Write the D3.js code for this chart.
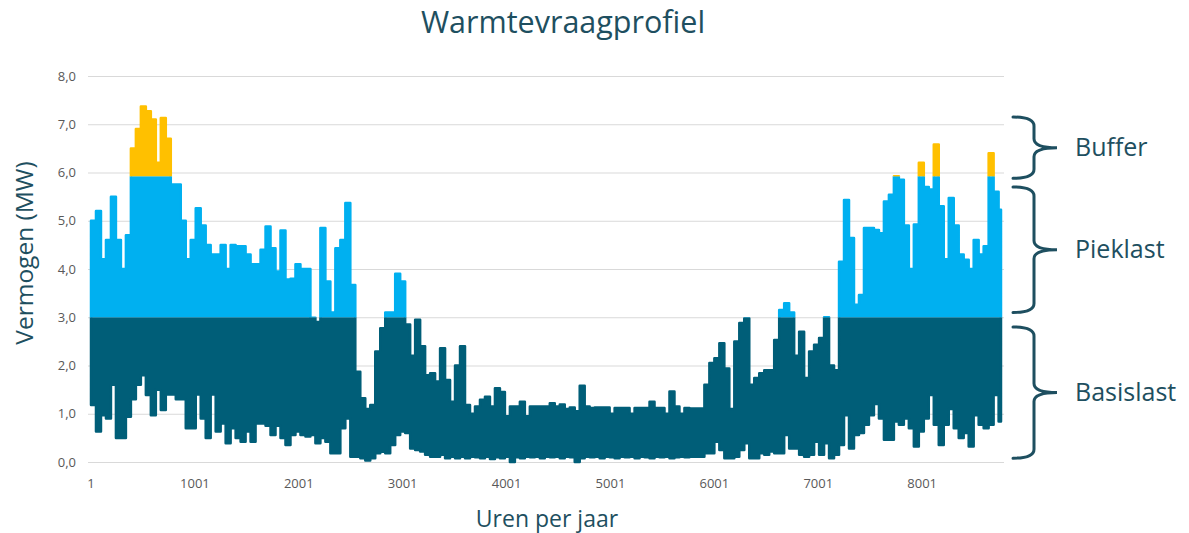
<!DOCTYPE html>
<html>
<head>
<meta charset="utf-8">
<script src="https://cdn.jsdelivr.net/npm/d3@7"></script>
<style>
  body { margin: 0; background: #fff; }
  svg text { font-family: "Open Sans", sans-serif; }
</style>
</head>
<body>
<svg></svg>
<script>
var width = 1189;
var height = 533;

// heat demand, read per 48-hour block: highest and lowest value (MW)
var binHours = 48;
var maxVals = [
  5.0, 5.2, 4.2, 4.6, 5.5, 4.6, 4.0, 4.7, 6.5, 6.9,
  7.37, 7.27, 7.1, 6.2, 7.13, 6.7, 5.75, 5.75, 5.0, 4.2,
  4.6, 5.26, 4.9, 4.5, 4.3, 4.3, 4.5, 4.0, 4.5, 4.47,
  4.47, 4.3, 4.1, 4.1, 4.4, 4.88, 4.43, 3.95, 4.8, 3.78,
  3.8, 4.1, 4.0, 4.0, 2.99, 2.9, 4.85, 3.74, 3.1, 4.43,
  4.6, 5.37, 3.67, 1.87, 1.32, 1.1, 1.18, 2.29, 2.77, 3.1,
  3.1, 3.9, 3.74, 2.85, 2.2, 2.95, 2.4, 1.8, 1.84, 1.67,
  2.36, 1.7, 1.25, 2.0, 2.4, 1.18, 1.0, 1.15, 1.29, 1.35,
  1.15, 1.53, 1.45, 0.95, 1.15, 1.15, 1.25, 0.95, 1.15, 1.15,
  1.15, 1.15, 1.22, 1.15, 1.19, 1.1, 1.13, 1.05, 1.58, 1.15,
  1.12, 1.13, 1.13, 1.13, 1.0, 1.12, 1.12, 1.12, 1.0, 1.12,
  1.12, 1.12, 1.25, 1.12, 1.12, 1.0, 1.46, 1.15, 1.0, 1.12,
  1.11, 1.11, 1.11, 1.6, 2.05, 2.15, 2.46, 1.94, 1.1, 2.5,
  2.88, 2.98, 1.6, 1.74, 1.84, 1.9, 1.9, 2.53, 3.15, 3.29,
  3.1, 2.2, 2.7, 1.74, 2.29, 2.43, 2.57, 3.0, 2.0, 1.9,
  4.15, 5.43, 4.64, 3.26, 3.46, 4.85, 4.85, 4.81, 4.74, 5.4,
  5.54, 5.92, 5.85, 4.9, 4.0, 4.92, 6.2, 5.7, 5.65, 6.58,
  5.3, 4.2, 5.47, 4.9, 4.3, 4.19, 4.0, 4.6, 4.3, 4.47,
  6.4, 5.6, 5.23
];
var minVals = [
  1.18, 0.63, 0.97, 0.9, 1.6, 0.5, 0.5, 0.94, 1.3, 1.6,
  1.8, 1.39, 0.97, 1.5, 1.08, 1.4, 1.4, 1.3, 1.3, 0.7,
  0.7, 1.4, 0.9, 0.5, 1.4, 0.63, 0.8, 0.39, 0.7, 0.5,
  0.42, 0.63, 0.42, 0.8, 0.8, 0.75, 0.56, 0.75, 0.5, 0.35,
  0.56, 0.63, 0.56, 0.53, 0.56, 0.39, 0.5, 0.42, 0.18, 0.18,
  0.7, 0.9, 0.11, 0.11, 0.08, 0.03, 0.08, 0.18, 0.21, 0.18,
  0.35, 0.56, 0.63, 0.6, 0.28, 0.25, 0.22, 0.15, 0.11, 0.11,
  0.15, 0.08, 0.11, 0.08, 0.11, 0.08, 0.11, 0.1, 0.08, 0.11,
  0.06, 0.1, 0.08, 0.11, 0.0, 0.1, 0.08, 0.11, 0.1, 0.11,
  0.08, 0.11, 0.1, 0.11, 0.08, 0.11, 0.1, 0.0, 0.08, 0.11,
  0.1, 0.11, 0.08, 0.11, 0.1, 0.08, 0.11, 0.1, 0.11, 0.08,
  0.11, 0.1, 0.08, 0.11, 0.1, 0.11, 0.08, 0.1, 0.11, 0.1,
  0.11, 0.11, 0.11, 0.18, 0.18, 0.42, 0.25, 0.08, 0.08, 0.11,
  0.25, 0.39, 0.08, 0.08, 0.18, 0.15, 0.22, 0.18, 0.18, 0.56,
  0.28, 0.28, 0.15, 0.11, 0.15, 0.42, 0.15, 0.39, 0.08, 0.15,
  0.35, 0.97, 0.28, 0.56, 0.6, 0.77, 0.97, 1.2, 0.9, 0.46,
  0.46, 0.84, 0.77, 0.9, 0.7, 0.32, 0.63, 0.9, 1.39, 0.77,
  0.35, 0.77, 1.1, 0.7, 0.5, 0.6, 0.32, 0.97, 0.77, 0.7,
  0.77, 1.39, 0.84
];

var totalHours = 8760;
var xTicks = [1, 1001, 2001, 3001, 4001, 5001, 6001, 7001, 8001];
var yTicks = [0, 1, 2, 3, 4, 5, 6, 7, 8];

// split levels of the load profile
var basisTop = 3.0;
var piekTop = 5.92;
var bandNames = ['Buffer', 'Pieklast', 'Basislast'];
var bandSpans = [[5.88, 7.15], [3.1, 5.7], [0.08, 2.8]];

var teal = '#1e4f60';

var svg = d3.select('svg')
    .attr('width', width)
    .attr('height', height);

var x = d3.scaleLinear().domain([1, totalHours]).range([91, 1001]);
var y = d3.scaleLinear().domain([0, 8]).range([462, 76]);

// gridlines
svg.append('g')
    .selectAll('line')
    .data(yTicks)
    .enter()
    .append('line')
    .attr('x1', 88)
    .attr('x2', 1004)
    .attr('y1', function (d) { return y(d) + 0.5; })
    .attr('y2', function (d) { return y(d) + 0.5; })
    .attr('stroke', '#d9d9d9')
    .attr('stroke-width', 1.2);

var fmt = function (d) { return d3.format('.1f')(d).replace('.', ','); };

svg.append('g')
    .selectAll('text')
    .data(yTicks)
    .enter()
    .append('text')
    .attr('x', 76)
    .attr('y', function (d) { return y(d); })
    .attr('dy', '0.35em')
    .attr('text-anchor', 'end')
    .attr('font-size', 13)
    .attr('fill', '#595959')
    .text(fmt);

svg.append('g')
    .selectAll('text')
    .data(xTicks)
    .enter()
    .append('text')
    .attr('x', function (d) { return x(d); })
    .attr('y', 488)
    .attr('text-anchor', 'middle')
    .attr('font-size', 13)
    .attr('fill', '#595959')
    .text(function (d) { return d; });

// profile as stepped envelope
var points = maxVals.map(function (m, i) {
    return { h: i * binHours + 1, hi: m, lo: minVals[i] };
});
points.push({ h: totalHours, hi: maxVals[maxVals.length - 1], lo: minVals[minVals.length - 1] });

var area = d3.area()
    .curve(d3.curveStepAfter)
    .x(function (d) { return x(d.h); })
    .y0(function (d) { return y(d.lo); })
    .y1(function (d) { return y(d.hi); });

var layers = [
    { id: 'basis', color: '#005e78', top: y(basisTop), bottom: height },
    { id: 'piek', color: '#00b0f0', top: y(piekTop), bottom: y(basisTop) },
    { id: 'buffer', color: '#ffc000', top: 0, bottom: y(piekTop) }
];

var defs = svg.append('defs');
layers.forEach(function (l) {
    defs.append('clipPath')
        .attr('id', 'clip-' + l.id)
        .append('rect')
        .attr('x', 0)
        .attr('width', width)
        .attr('y', l.top)
        .attr('height', l.bottom - l.top);

    svg.append('path')
        .datum(points)
        .attr('d', area)
        .attr('fill', l.color)
        .attr('stroke', l.color)
        .attr('stroke-width', 2.5)
        .attr('stroke-linejoin', 'round')
        .attr('clip-path', 'url(#clip-' + l.id + ')');
});

// braces
var brace = function (top, bot) {
    var x0 = 1013, xs = 1034, xt = 1057, r = 9;
    var mid = (top + bot) / 2;
    return 'M' + x0 + ',' + top +
        'Q' + xs + ',' + top + ' ' + xs + ',' + (top + r) +
        'L' + xs + ',' + (mid - r) +
        'Q' + xs + ',' + mid + ' ' + xt + ',' + mid +
        'Q' + xs + ',' + mid + ' ' + xs + ',' + (mid + r) +
        'L' + xs + ',' + (bot - r) +
        'Q' + xs + ',' + bot + ' ' + x0 + ',' + bot;
};

bandNames.forEach(function (name, i) {
    var top = y(bandSpans[i][1]);
    var bot = y(bandSpans[i][0]);
    svg.append('path')
        .attr('d', brace(top, bot))
        .attr('fill', 'none')
        .attr('stroke', teal)
        .attr('stroke-width', 3)
        .attr('stroke-linecap', 'round');
    svg.append('text')
        .attr('x', 1075)
        .attr('y', (top + bot) / 2)
        .attr('dy', '0.35em')
        .attr('font-size', 25)
        .attr('fill', teal)
        .text(name);
});

// titles
svg.append('text')
    .attr('x', 563)
    .attr('y', 33)
    .attr('text-anchor', 'middle')
    .attr('font-size', 30.5)
    .attr('fill', teal)
    .text('Warmtevraagprofiel');

svg.append('text')
    .attr('transform', 'translate(33,253) rotate(-90)')
    .attr('text-anchor', 'middle')
    .attr('font-size', 24.5)
    .attr('fill', teal)
    .text('Vermogen (MW)');

svg.append('text')
    .attr('x', 547)
    .attr('y', 527)
    .attr('text-anchor', 'middle')
    .attr('font-size', 23)
    .attr('fill', teal)
    .text('Uren per jaar');
</script>
</body>
</html>
